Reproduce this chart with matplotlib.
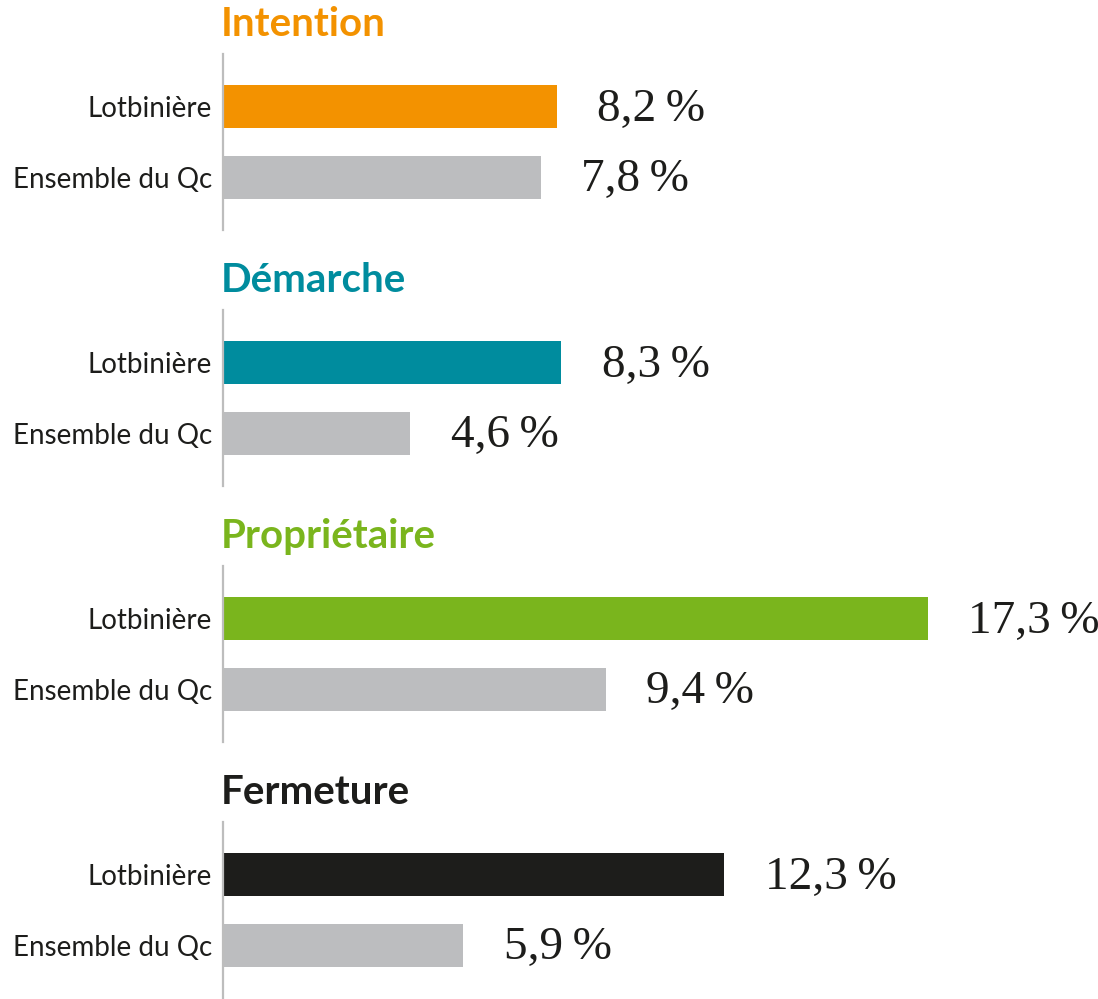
import matplotlib.pyplot as plt

# Data
sections = ['Intention', 'Démarche', 'Propriétaire', 'Fermeture']
section_colors = ['#F39200', '#008C9E', '#7AB51D', '#1D1D1B']
categories = ['Lotbinière', 'Ensemble du Qc']
lotbiniere = [8.2, 8.3, 17.3, 12.3]
quebec = [7.8, 4.6, 9.4, 5.9]
gray = '#BCBDBF'

W, H = 1098, 999
fig = plt.figure(figsize=(W / 100, H / 100), dpi=100)

left = 223
panel_top = 54
panel_step = 256
panel_h = 176
x_max = (W - left) / 40.75

for i, name in enumerate(sections):
    top = panel_top + panel_step * i
    ax = fig.add_axes([left / W, 1 - (top + panel_h) / H, 1 - left / W, panel_h / H])
    vals = [lotbiniere[i], quebec[i]]
    ax.barh([0, 1], vals, height=0.61, color=[section_colors[i], gray])
    ax.set_xlim(0, x_max)
    ax.set_ylim(1.75, -0.75)

    for s in ['top', 'right', 'bottom']:
        ax.spines[s].set_visible(False)
    ax.spines['left'].set_color('#BDBDBD')
    ax.spines['left'].set_linewidth(1.6)
    ax.set_xticks([])
    ax.set_yticks([0, 1])
    ax.set_yticklabels(categories, family=['Lato', 'DejaVu Sans'],
                       fontsize=20, color='#1D1D1B')
    ax.tick_params(axis='y', length=0, pad=8)

    for y, v in enumerate(vals):
        ax.annotate(f"{v:.1f}".replace('.', ',') + '\u2009%', xy=(v, y),
                    xytext=(29, -2), textcoords='offset points', va='center', ha='left',
                    fontsize=34, family=['Liberation Serif', 'DejaVu Serif'], color='#1D1D1B')

    ax.text(-0.002, 1.1, name, transform=ax.transAxes, ha='left', va='baseline',
            fontsize=29, fontweight='bold', family=['Lato', 'DejaVu Sans'],
            color=section_colors[i])

fig.savefig('out.png', dpi=100)
